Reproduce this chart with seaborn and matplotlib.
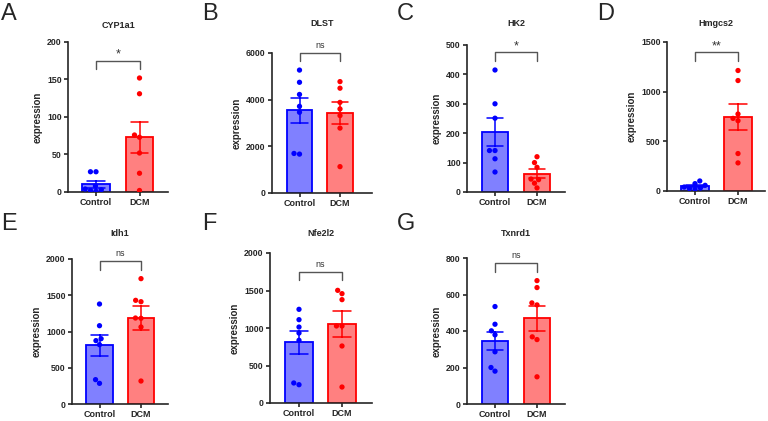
import pandas as pd
import matplotlib.pyplot as plt
import seaborn as sns

groups = ["Control", "DCM"]
genes = ["CYP1a1", "DLST", "HK2", "Hmgcs2", "Idh1", "Nfe2l2", "Txnrd1"]
letters = ["A", "B", "C", "D", "E", "F", "G"]

# expression values per mouse
cyp1a1_control = [27, 27, 8, 4, 3, 2, 1]
cyp1a1_dcm = [152, 131, 76, 73, 52, 25, 2]
dlst_control = [5268, 4745, 4223, 3714, 3460, 1667, 1695]
dlst_dcm = [4774, 4492, 3884, 3602, 3319, 2782, 1130]
hk2_control = [415, 300, 251, 141, 141, 113, 68]
hk2_dcm = [120, 100, 84, 44, 42, 30, 14]
hmgcs2_control = [101, 74, 57, 40, 30, 24, 17]
hmgcs2_dcm = [1213, 1112, 775, 731, 708, 377, 283]
idh1_control = [1379, 1080, 901, 874, 818, 336, 285]
idh1_dcm = [1729, 1430, 1411, 1182, 1186, 1062, 317]
nfe2l2_control = [1249, 1111, 1013, 933, 836, 267, 244]
nfe2l2_dcm = [1502, 1458, 1378, 1027, 1027, 760, 213]
txnrd1_control = [534, 437, 401, 379, 286, 200, 180]
txnrd1_dcm = [676, 638, 554, 543, 368, 353, 149]

controls = [cyp1a1_control, dlst_control, hk2_control, hmgcs2_control,
            idh1_control, nfe2l2_control, txnrd1_control]
dcms = [cyp1a1_dcm, dlst_dcm, hk2_dcm, hmgcs2_dcm, idh1_dcm, nfe2l2_dcm, txnrd1_dcm]

# significance labels and bracket heights (bracket y, tick end y)
sig_labels = ["*", "ns", "*", "**", "ns", "ns", "ns"]
bracket_top = [175, 6000, 475, 1395, 1977, 1747, 772]
bracket_end = [164, 5650, 446, 1305, 1844, 1636, 723]

# y axis ranges
y_max = [200, 6000, 500, 1500, 2000, 2000, 800]
y_step = [50, 2000, 100, 500, 500, 500, 200]

rows = []
for gene, c, d in zip(genes, controls, dcms):
    rows += [(gene, "Control", v) for v in c]
    rows += [(gene, "DCM", v) for v in d]
df = pd.DataFrame(rows, columns=["gene", "group", "expression"])

sns.set_style("ticks")
plt.rcParams["font.family"] = ["Liberation Sans", "DejaVu Sans"]

W, H = 768, 421
fig = plt.figure(figsize=(W / 100, H / 100), dpi=100)

# axes boxes in pixels: left, right, top, bottom, control centre, dcm centre
boxes = [
    (68, 168, 42, 192, 96, 139.5),
    (272, 372, 53, 193, 299.5, 340),
    (467, 565, 45, 192, 495, 537),
    (667, 765, 42, 191, 695, 738),
    (72, 168, 259, 404, 99.5, 141),
    (270, 372, 253, 403, 299, 342),
    (467, 565, 258, 404, 495, 537),
]
letter_pos = [(1, 3), (202, 3), (397, 3), (597, 3), (1, 213), (202, 213), (397, 213)]
title_y = [25, 23, 24, 24, 234, 234, 234]

fills = ["#8080FF", "#FF8080"]
edges = ["#0000FF", "#FF0000"]

for i, gene in enumerate(genes):
    left, right, top, bottom, c0, c1 = boxes[i]
    ax = fig.add_axes([left / W, 1 - bottom / H, (right - left) / W, (bottom - top) / H])
    sub = df[df["gene"] == gene]
    for g, fc, ec in zip(groups, fills, edges):
        sns.barplot(data=sub[sub["group"] == g], x="group", y="expression", order=groups,
                    errorbar="se", capsize=0.4, width=0.64, color=fc, saturation=1,
                    edgecolor=ec, linewidth=1.3,
                    err_kws={"color": ec, "linewidth": 1.1}, ax=ax)
    sns.swarmplot(data=sub, x="group", y="expression", hue="group", order=groups,
                  hue_order=groups, palette=edges, size=3.8, legend=False, ax=ax, zorder=4)

    sp = c1 - c0
    ax.set_xlim((left - c0) / sp, (right - c0) / sp)
    ax.set_ylim(0, y_max[i])
    ax.set_yticks(range(0, y_max[i] + 1, y_step[i]))
    ax.set_xlabel("")
    ax.set_ylabel("expression", fontsize=7, fontweight="bold", labelpad=3)
    sns.despine(ax=ax)
    for s in ["left", "bottom"]:
        ax.spines[s].set_linewidth(1.2)
    ax.tick_params(width=1.2, length=3, pad=1.5, labelsize=6.3)
    for lab in ax.get_xticklabels() + ax.get_yticklabels():
        lab.set_fontweight("bold")
    for lab in ax.get_xticklabels():
        lab.set_fontsize(6.5)

    # significance bracket
    ax.plot([0, 0, 1, 1], [bracket_end[i], bracket_top[i], bracket_top[i], bracket_end[i]],
            color="#555555", lw=1, clip_on=False)
    star = "*" in sig_labels[i]
    ax.text(0.5, bracket_top[i] + y_max[i] * (0.0 if star else 0.02), sig_labels[i],
            ha="center", va="bottom", fontsize=9 if star else 6.5, color="#333333",
            clip_on=False)

    fig.text((left + right) / 2 / W, 1 - title_y[i] / H, gene, ha="center", va="center",
             fontsize=6.5, fontweight="bold")
    lx, ly = letter_pos[i]
    fig.text(lx / W, 1 - ly / H, letters[i], ha="left", va="top", fontsize=17)

fig.savefig("out.png", dpi=100)
